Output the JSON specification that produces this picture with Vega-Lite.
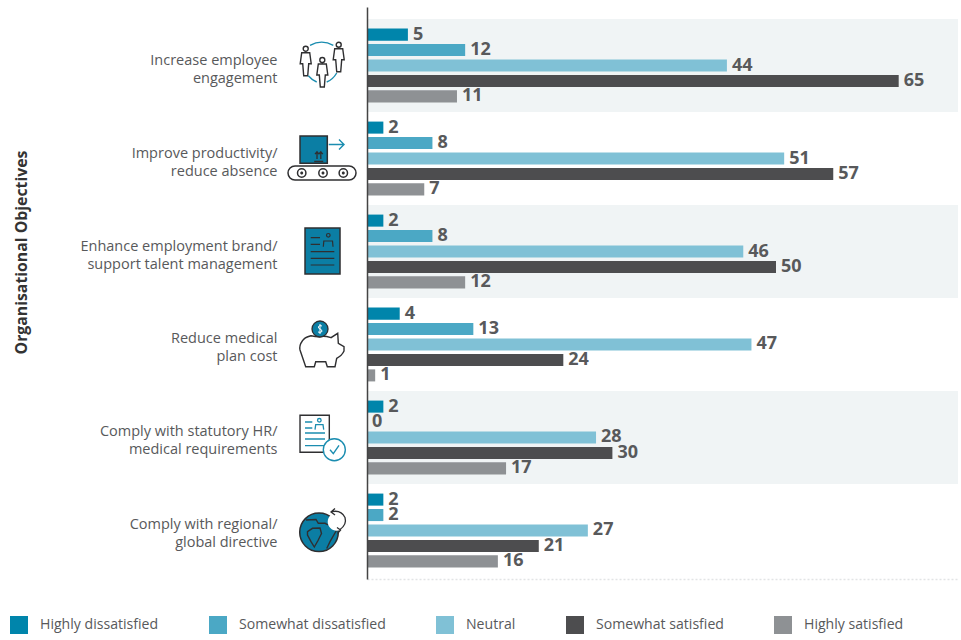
{
  "$schema": "https://vega.github.io/schema/vega-lite/v6.json",
  "width": 591,
  "height": 572,
  "autosize": {"type": "none"},
  "padding": {"left": 367, "top": 7, "right": 3, "bottom": 61},
  "background": "white",
  "config": {"view": {"stroke": null}, "font": "Open Sans"},
  "datasets": {
    "scores": [
      {"objective": "Increase employee|engagement", "level": "Highly dissatisfied", "score": 5},
      {"objective": "Increase employee|engagement", "level": "Somewhat dissatisfied", "score": 12},
      {"objective": "Increase employee|engagement", "level": "Neutral", "score": 44},
      {"objective": "Increase employee|engagement", "level": "Somewhat satisfied", "score": 65},
      {"objective": "Increase employee|engagement", "level": "Highly satisfied", "score": 11},
      {"objective": "Improve productivity/|reduce absence", "level": "Highly dissatisfied", "score": 2},
      {"objective": "Improve productivity/|reduce absence", "level": "Somewhat dissatisfied", "score": 8},
      {"objective": "Improve productivity/|reduce absence", "level": "Neutral", "score": 51},
      {"objective": "Improve productivity/|reduce absence", "level": "Somewhat satisfied", "score": 57},
      {"objective": "Improve productivity/|reduce absence", "level": "Highly satisfied", "score": 7},
      {"objective": "Enhance employment brand/|support talent management", "level": "Highly dissatisfied", "score": 2},
      {"objective": "Enhance employment brand/|support talent management", "level": "Somewhat dissatisfied", "score": 8},
      {"objective": "Enhance employment brand/|support talent management", "level": "Neutral", "score": 46},
      {"objective": "Enhance employment brand/|support talent management", "level": "Somewhat satisfied", "score": 50},
      {"objective": "Enhance employment brand/|support talent management", "level": "Highly satisfied", "score": 12},
      {"objective": "Reduce medical|plan cost", "level": "Highly dissatisfied", "score": 4},
      {"objective": "Reduce medical|plan cost", "level": "Somewhat dissatisfied", "score": 13},
      {"objective": "Reduce medical|plan cost", "level": "Neutral", "score": 47},
      {"objective": "Reduce medical|plan cost", "level": "Somewhat satisfied", "score": 24},
      {"objective": "Reduce medical|plan cost", "level": "Highly satisfied", "score": 1},
      {"objective": "Comply with statutory HR/|medical requirements", "level": "Highly dissatisfied", "score": 2},
      {"objective": "Comply with statutory HR/|medical requirements", "level": "Somewhat dissatisfied", "score": 0},
      {"objective": "Comply with statutory HR/|medical requirements", "level": "Neutral", "score": 28},
      {"objective": "Comply with statutory HR/|medical requirements", "level": "Somewhat satisfied", "score": 30},
      {"objective": "Comply with statutory HR/|medical requirements", "level": "Highly satisfied", "score": 17},
      {"objective": "Comply with regional/|global directive", "level": "Highly dissatisfied", "score": 2},
      {"objective": "Comply with regional/|global directive", "level": "Somewhat dissatisfied", "score": 2},
      {"objective": "Comply with regional/|global directive", "level": "Neutral", "score": 27},
      {"objective": "Comply with regional/|global directive", "level": "Somewhat satisfied", "score": 21},
      {"objective": "Comply with regional/|global directive", "level": "Highly satisfied", "score": 16}
    ],
    "engagement": [{"objective": "Increase employee|engagement"}],
    "productivity": [{"objective": "Improve productivity/|reduce absence"}],
    "brand": [{"objective": "Enhance employment brand/|support talent management"}],
    "medical": [{"objective": "Reduce medical|plan cost"}],
    "statutory": [{"objective": "Comply with statutory HR/|medical requirements"}],
    "regional": [{"objective": "Comply with regional/|global directive"}]
  },
  "encoding": {
    "y": {
      "field": "objective",
      "type": "nominal",
      "sort": null,
      "scale": {
        "domain": [
          "Increase employee|engagement",
          "Improve productivity/|reduce absence",
          "Enhance employment brand/|support talent management",
          "Reduce medical|plan cost",
          "Comply with statutory HR/|medical requirements",
          "Comply with regional/|global directive"
        ],
        "paddingInner": 0,
        "paddingOuter": 0.0753,
        "align": 0.857
      },
      "axis": {
        "title": "Organisational Objectives",
        "titleFont": "Open Sans",
        "titleFontSize": 15.8,
        "titleFontWeight": "bold",
        "titleColor": "#333333",
        "titleX": -338,
        "titleY": 245,
        "labelExpr": "split(datum.label, '|')",
        "labelFont": "Open Sans",
        "labelFontSize": 14.5,
        "labelColor": "#58595b",
        "labelLineHeight": 18,
        "labelPadding": 90,
        "labelOffset": -5,
        "labelLimit": 300,
        "ticks": false,
        "domainColor": "#444444",
        "domainWidth": 1.5,
        "grid": false
      }
    }
  },
  "layer": [
    {
      "data": {"name": "scores"},
      "transform": [
        {"filter": "indexof(['Increase employee|engagement','Enhance employment brand/|support talent management','Comply with statutory HR/|medical requirements'], datum.objective) >= 0"},
        {"aggregate": [{"op": "count", "as": "rows"}], "groupby": ["objective"]}
      ],
      "mark": {"type": "rect", "color": "#f0f4f5"},
      "encoding": {"x": {"datum": 0}, "x2": {"datum": 72.25}}
    },
    {
      "data": {"name": "scores"},
      "mark": {"type": "bar"},
      "encoding": {
        "x": {
          "field": "score",
          "type": "quantitative",
          "stack": null,
          "scale": {"domain": [0, 72.25], "nice": false, "zero": true},
          "axis": {
            "title": null,
            "labels": false,
            "ticks": false,
            "grid": false,
            "domainColor": "#e2e4e5",
            "domainDash": [2, 2],
            "domainWidth": 1.5
          }
        },
        "yOffset": {
          "field": "level",
          "type": "nominal",
          "sort": null,
          "scale": {
            "domain": ["Highly dissatisfied", "Somewhat dissatisfied", "Neutral", "Somewhat satisfied", "Highly satisfied"],
            "paddingInner": 0.22,
            "paddingOuter": 0.62
          }
        },
        "color": {
          "field": "level",
          "type": "nominal",
          "sort": null,
          "scale": {
            "domain": ["Highly dissatisfied", "Somewhat dissatisfied", "Neutral", "Somewhat satisfied", "Highly satisfied"],
            "range": ["#0085ab", "#4ba8c5", "#80c1d6", "#4d4d4f", "#8e9194"]
          },
          "legend": {
            "title": null,
            "orient": "none",
            "legendX": -357,
            "legendY": 609,
            "direction": "horizontal",
            "columns": 5,
            "columnPadding": 50,
            "symbolType": "square",
            "symbolSize": 324,
            "symbolStrokeWidth": 0,
            "symbolOpacity": 1,
            "labelFont": "Open Sans",
            "labelFontSize": 14.1,
            "labelColor": "#58595b",
            "labelOffset": 12,
            "labelLimit": 300
          }
        }
      }
    },
    {
      "data": {"name": "scores"},
      "mark": {"type": "text", "align": "left", "baseline": "middle", "dx": 5, "font": "Open Sans", "fontWeight": "bold", "fontSize": 18, "color": "#58595b"},
      "encoding": {
        "x": {"field": "score", "type": "quantitative", "stack": null},
        "yOffset": {"field": "level", "type": "nominal", "sort": null},
        "text": {"field": "score", "type": "quantitative"}
      }
    },
    {
      "data": {"name": "engagement"},
      "mark": {"type": "point", "size": 4, "opacity": 1, "fill": "white", "stroke": "#2f2f31", "strokeWidth": 1.4,
        "shape": "M-20.3 -12.8L-12.3 -12.8L-10.8 -1.8L-13.3 -1.8L-14.3 10.2L-18.3 10.2L-19.3 -1.8L-21.8 -1.8ZM-18.8 -16.8a2.5 2.5 0 1 0 5 0a2.5 2.5 0 1 0 -5 0ZM-3.7 -1.5L4.3 -1.5L5.8 9.5L3.3 9.5L2.3 21.5L-1.7 21.5L-2.7 9.5L-5.2 9.5ZM-2.2 -5.5a2.5 2.5 0 1 0 5 0a2.5 2.5 0 1 0 -5 0ZM12.7 -16.8L20.7 -16.8L22.2 -5.8L19.7 -5.8L18.7 6.2L14.7 6.2L13.7 -5.8L11.2 -5.8ZM14.2 -20.8a2.5 2.5 0 1 0 5 0a2.5 2.5 0 1 0 -5 0Z"},
      "encoding": {"x": {"datum": -5.5}}
    },
    {
      "data": {"name": "engagement"},
      "mark": {"type": "point", "size": 4, "opacity": 1, "fill": "transparent", "stroke": "#1b8db0", "strokeWidth": 1.4,
        "shape": "M-12 -20.2Q-0.3 -26.5 11.3 -20.2M-13.7 10.2Q-10 14.5 -5.3 16.5M4.7 16.5Q11 14 14.7 7.5"},
      "encoding": {"x": {"datum": -5.5}}
    },
    {
      "data": {"name": "productivity"},
      "mark": {"type": "point", "size": 4, "opacity": 1, "fill": "#0b7ea4", "stroke": "#2f2f31", "strokeWidth": 1.5,
        "shape": "M-22 -22.5L5.3 -22.5L5.3 4.8L-22 4.8Z"},
      "encoding": {"x": {"datum": -5.5}}
    },
    {
      "data": {"name": "productivity"},
      "mark": {"type": "point", "size": 4, "opacity": 1, "fill": "transparent", "stroke": "#2f2f31", "strokeWidth": 1.3,
        "shape": "M-7.8 3L1.2 3M-5 0.5L-5 -6.5M-7 -4.3L-5 -6.8L-3 -4.3M-1.2 0.5L-1.2 -6.5M-3.2 -4.3L-1.2 -6.8L0.8 -4.3"},
      "encoding": {"x": {"datum": -5.5}}
    },
    {
      "data": {"name": "productivity"},
      "mark": {"type": "point", "size": 4, "opacity": 1, "fill": "transparent", "stroke": "#1b8db0", "strokeWidth": 1.4,
        "shape": "M6.7 -14L22 -14M17 -19L22 -14L17 -9"},
      "encoding": {"x": {"datum": -5.5}}
    },
    {
      "data": {"name": "productivity"},
      "mark": {"type": "point", "size": 4, "opacity": 1, "fill": "white", "stroke": "#2f2f31", "strokeWidth": 1.5,
        "shape": "M-27 7.5L27 7.5A7 7 0 0 1 27 21.5L-27 21.5A7 7 0 0 1 -27 7.5ZM-24.5 14.5a4.2 4.2 0 1 0 8.4 0a4.2 4.2 0 1 0 -8.4 0ZM-3.2 14.5a4.2 4.2 0 1 0 8.4 0a4.2 4.2 0 1 0 -8.4 0ZM17.1 14.5a4.2 4.2 0 1 0 8.4 0a4.2 4.2 0 1 0 -8.4 0Z"},
      "encoding": {"x": {"datum": -5.5}}
    },
    {
      "data": {"name": "productivity"},
      "mark": {"type": "point", "size": 4, "opacity": 1, "fill": "#2f2f31", "strokeWidth": 0,
        "shape": "M-21.8 14.5a1.5 1.5 0 1 0 3 0a1.5 1.5 0 1 0 -3 0ZM-0.5 14.5a1.5 1.5 0 1 0 3 0a1.5 1.5 0 1 0 -3 0ZM19.8 14.5a1.5 1.5 0 1 0 3 0a1.5 1.5 0 1 0 -3 0Z"},
      "encoding": {"x": {"datum": -5.5}}
    },
    {
      "data": {"name": "brand"},
      "mark": {"type": "point", "size": 4, "opacity": 1, "fill": "#0b7ea4", "stroke": "#2f2f31", "strokeWidth": 1.5,
        "shape": "M-17 -23.5L18 -23.5L18 22.5L-17 22.5Z"},
      "encoding": {"x": {"datum": -5.5}}
    },
    {
      "data": {"name": "brand"},
      "mark": {"type": "point", "size": 4, "opacity": 1, "fill": "transparent", "stroke": "#2f2f31", "strokeWidth": 1.2,
        "shape": "M-11.3 0.2L12.3 0.2M-11.3 6.8L12.3 6.8M-11.3 13.5L12.3 13.5M-11.3 -13.8L-2 -13.8M-11.3 -7.2L-2 -7.2M1.3 -4.8L1.8 -10.5L10.5 -10.5L11 -4.8M4.5 -16.2a1.8 1.8 0 1 0 3.6 0a1.8 1.8 0 1 0 -3.6 0Z"},
      "encoding": {"x": {"datum": -5.5}}
    },
    {
      "data": {"name": "medical"},
      "mark": {"type": "point", "size": 4, "opacity": 1, "fill": "white", "stroke": "#2f2f31", "strokeWidth": 1.4,
        "shape": "M-11 -8.8Q-18 -7 -19.7 -3.5Q-23 1 -22 5.5L-16.3 22.2L-7.7 22.2L-6.3 17.2L3.7 17.2L5.3 22.2L13 22.2L14.7 13.8Q20 11 22 6.5L22 2.2L16.3 -1.2L15.7 -11.2L9 -6.8Q2 -9 -2 -7.8Q-7 -8 -11 -8.8Z"},
      "encoding": {"x": {"datum": -5.5}}
    },
    {
      "data": {"name": "medical"},
      "mark": {"type": "point", "size": 4, "opacity": 1, "fill": "#0b7ea4", "stroke": "#2f2f31", "strokeWidth": 1.3,
        "shape": "M-10 -15.5a8 8 0 1 0 16 0a8 8 0 1 0 -16 0Z"},
      "encoding": {"x": {"datum": -5.5}}
    },
    {
      "data": {"name": "medical"},
      "mark": {"type": "point", "size": 4, "opacity": 1, "fill": "transparent", "stroke": "white", "strokeWidth": 1,
        "shape": "M0 -18.5Q-2 -19.5 -3.5 -18Q-4 -16 -2 -15.5Q0 -15 0 -13Q-2 -11.5 -4 -12.5M-2 -20.5L-2 -10.5"},
      "encoding": {"x": {"datum": -5.5}}
    },
    {
      "data": {"name": "statutory"},
      "mark": {"type": "point", "size": 4, "opacity": 1, "fill": "white", "stroke": "#2f2f31", "strokeWidth": 1.4,
        "shape": "M-22 -22.2L7.3 -22.2L7.3 14.8L-22 14.8Z"},
      "encoding": {"x": {"datum": -5.5}}
    },
    {
      "data": {"name": "statutory"},
      "mark": {"type": "point", "size": 4, "opacity": 1, "fill": "transparent", "stroke": "#1b8db0", "strokeWidth": 1.3,
        "shape": "M-17 -15.5L-9.7 -15.5M-17 -9.5L-9.7 -9.5M-17 -4.5L3 -4.5M-17 1.5L3 1.5M-17 8.2L3 8.2M-7 -7.8L-6.3 -12.8L1 -12.8L1.7 -7.8M-4.5 -17.2a1.8 1.8 0 1 0 3.6 0a1.8 1.8 0 1 0 -3.6 0Z"},
      "encoding": {"x": {"datum": -5.5}}
    },
    {
      "data": {"name": "statutory"},
      "mark": {"type": "point", "size": 4, "opacity": 1, "fill": "white", "stroke": "#1b8db0", "strokeWidth": 1.4,
        "shape": "M1.3 12.2a11 11 0 1 0 22 0a11 11 0 1 0 -22 0ZM8 12.2L11.3 16.2L17 7.8"},
      "encoding": {"x": {"datum": -5.5}}
    },
    {
      "data": {"name": "regional"},
      "mark": {"type": "point", "size": 4, "opacity": 1, "fill": "#0b7ea4", "stroke": "#2f2f31", "strokeWidth": 1.5,
        "shape": "M-22.3 1.8a19.3 19.3 0 1 0 38.6 0a19.3 19.3 0 1 0 -38.6 0Z"},
      "encoding": {"x": {"datum": -5.5}}
    },
    {
      "data": {"name": "regional"},
      "mark": {"type": "point", "size": 4, "opacity": 1, "fill": "transparent", "stroke": "#2f2f31", "strokeWidth": 1.4,
        "shape": "M-14.5 1.2L-9.5 -2.2L-2 -2.5L-0.5 3L-4 10L-7.7 16.5L-11 11.2L-14.5 4.5ZM-16 -10.5L-6 -11L-3.7 -7.2L3 -7.2L6.3 -5.5M14.7 -0.5L8 11.2L4.7 18"},
      "encoding": {"x": {"datum": -5.5}}
    },
    {
      "data": {"name": "regional"},
      "mark": {"type": "point", "size": 4, "opacity": 1, "fill": "white", "strokeWidth": 0,
        "shape": "M5.7 -8.8a9 9 0 1 0 18 0a9 9 0 1 0 -18 0Z"},
      "encoding": {"x": {"datum": -5.5}}
    },
    {
      "data": {"name": "regional"},
      "mark": {"type": "point", "size": 4, "opacity": 1, "fill": "transparent", "stroke": "#2f2f31", "strokeWidth": 1.3,
        "shape": "M9.7 -18.8Q19 -21 23 -13Q25 -6 18 -1M13 -22L9 -18.6L13 -15.5M15 -3L18.5 -0.5L15.5 3"},
      "encoding": {"x": {"datum": -5.5}}
    }
  ]
}
